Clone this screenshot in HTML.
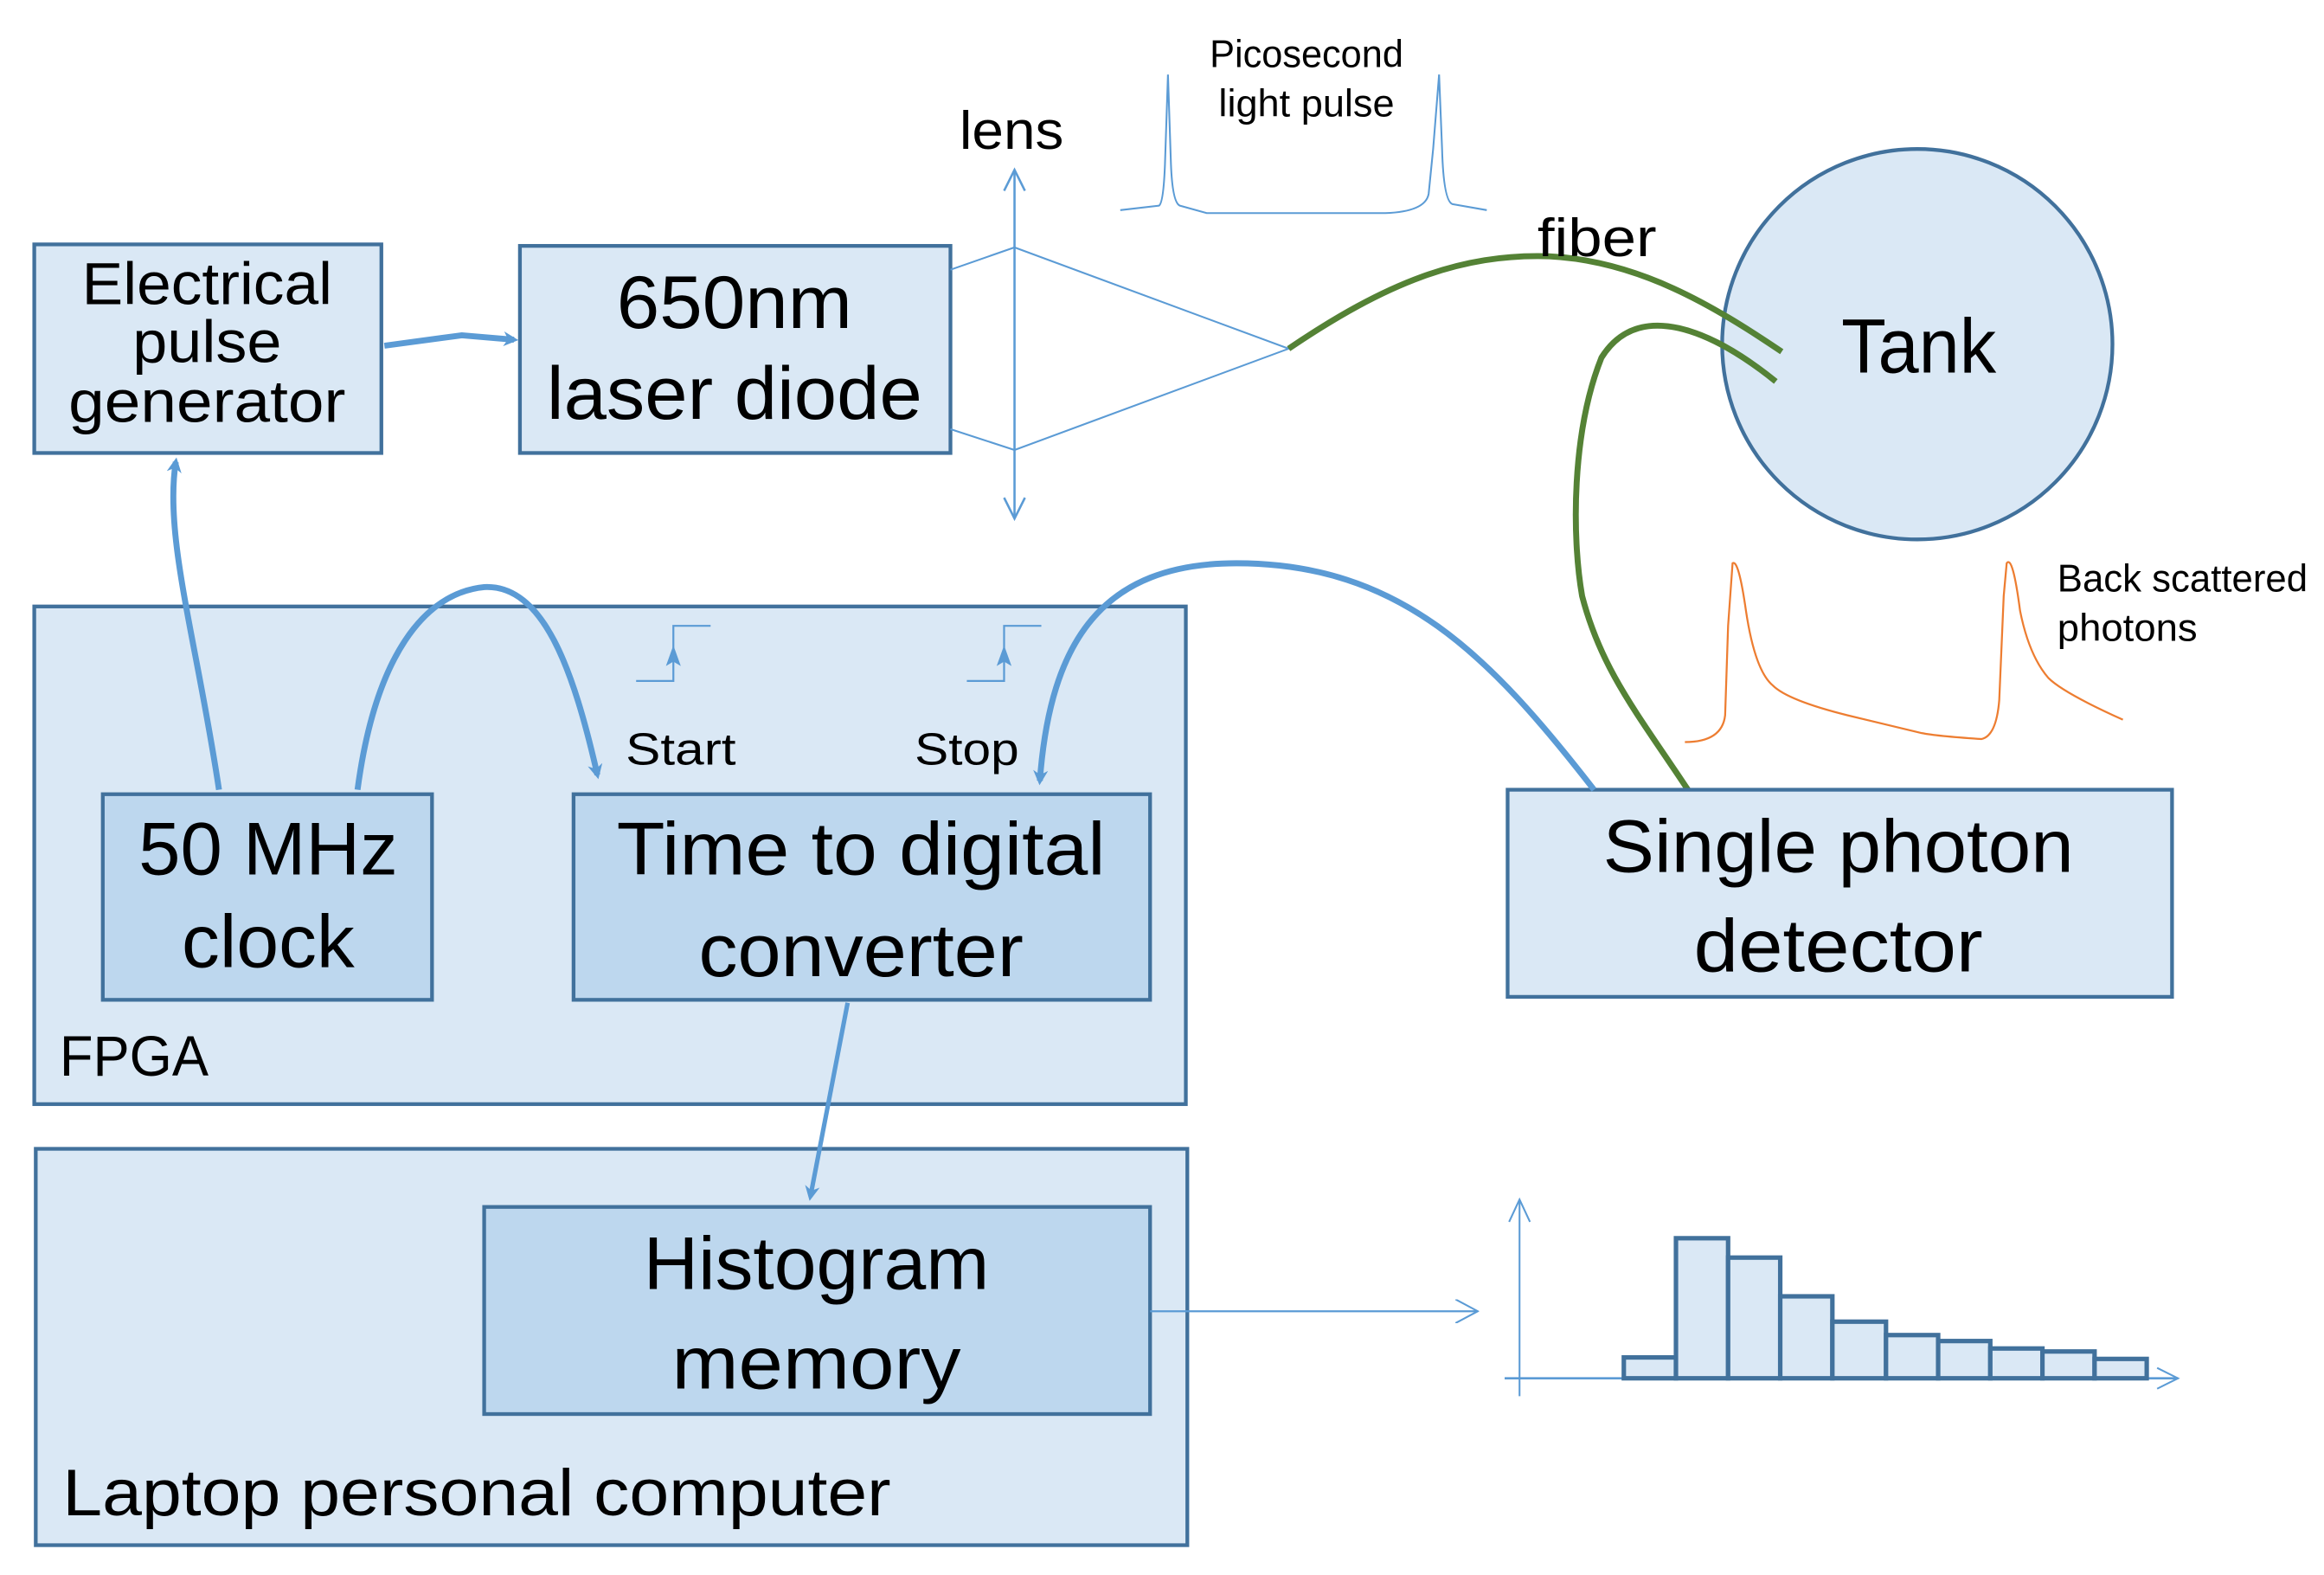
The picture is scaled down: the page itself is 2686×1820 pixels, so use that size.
<!DOCTYPE html>
<html><head><meta charset="utf-8"><style>
html,body{margin:0;padding:0;background:#fff;}
svg{display:block;}
text{font-family:"Liberation Sans",sans-serif;fill:#000;}
</style></head><body>
<svg width="2686" height="1820" viewBox="0 0 1560 1057" xmlns="http://www.w3.org/2000/svg">
<defs>
<marker id="ah" markerWidth="10" markerHeight="10" refX="7" refY="5" orient="auto" markerUnits="userSpaceOnUse"><path d="M0,0 L10,5 L0,10 L3,5 Z" fill="#5b9bd5"/></marker>
<marker id="ao" markerWidth="16" markerHeight="16" refX="15" refY="8" orient="auto" markerUnits="userSpaceOnUse"><path d="M0,0 L15,8 L0,16" fill="none" stroke="#5b9bd5" stroke-width="1.2"/></marker>
</defs>

<!-- FPGA -->
<rect x="23" y="407" width="773" height="334" fill="#dae8f5" stroke="#41719c" stroke-width="2.5"/>
<text x="40" y="722" font-size="38" textLength="100" lengthAdjust="spacingAndGlyphs">FPGA</text>
<!-- Laptop -->
<rect x="24" y="771" width="773" height="266" fill="#dae8f5" stroke="#41719c" stroke-width="2.5"/>
<text x="42" y="1017" font-size="44" textLength="556" lengthAdjust="spacingAndGlyphs">Laptop personal computer</text>

<!-- Pulse gen -->
<rect x="23" y="164" width="233" height="140" fill="#dae8f5" stroke="#41719c" stroke-width="2.5"/>
<text x="139" y="204" font-size="40" text-anchor="middle" textLength="168" lengthAdjust="spacingAndGlyphs">Electrical</text>
<text x="139" y="243" font-size="40" text-anchor="middle" textLength="100" lengthAdjust="spacingAndGlyphs">pulse</text>
<text x="139" y="283" font-size="40" text-anchor="middle" textLength="186" lengthAdjust="spacingAndGlyphs">generator</text>

<!-- Laser -->
<rect x="349" y="165" width="289" height="139" fill="#dae8f5" stroke="#41719c" stroke-width="2.5"/>
<text x="493" y="220" font-size="50" text-anchor="middle" textLength="158" lengthAdjust="spacingAndGlyphs">650nm</text>
<text x="493" y="281" font-size="50" text-anchor="middle" textLength="252" lengthAdjust="spacingAndGlyphs">laser diode</text>

<!-- lens -->
<line x1="681" y1="115" x2="681" y2="347" stroke="#5b9bd5" stroke-width="1.5"/>
<path d="M674,128 L681,114 L688,128 M674,334 L681,348 L688,334" fill="none" stroke="#5b9bd5" stroke-width="1.5"/>
<text x="679" y="100" font-size="36" text-anchor="middle" textLength="70" lengthAdjust="spacingAndGlyphs">lens</text>
<path d="M638,181 L681,166 L865,234 L681,302 L638,288" fill="none" stroke="#5b9bd5" stroke-width="1.2"/>

<!-- pulse -->
<path d="M752,141 L778,138 Q781,136 782,110 L784,50 L786,110 Q787,136 792,138 L810,143 L930,143 Q957,142 959,130 L962,100 L966,50 L968,100 Q969,135 975,137 L998,141" fill="none" stroke="#5b9bd5" stroke-width="1.2"/>
<text x="877" y="45" font-size="26" text-anchor="middle" textLength="130" lengthAdjust="spacingAndGlyphs">Picosecond</text>
<text x="877" y="78" font-size="26" text-anchor="middle" textLength="118" lengthAdjust="spacingAndGlyphs">light pulse</text>

<!-- Tank -->
<ellipse cx="1287" cy="231" rx="131" ry="131" fill="#dae8f5" stroke="#41719c" stroke-width="2.5"/>
<text x="1288" y="250" font-size="52" text-anchor="middle" textLength="104" lengthAdjust="spacingAndGlyphs">Tank</text>

<!-- fiber -->
<path d="M865,234 C930,190 980,170 1040,172 C1100,175 1150,205 1196,236" fill="none" stroke="#548235" stroke-width="4"/>
<path d="M1192,256 C1150,222 1100,200 1075,240 C1055,290 1055,360 1062,400 C1075,450 1100,480 1133,530" fill="none" stroke="#548235" stroke-width="4"/>
<text x="1072" y="172" font-size="36" text-anchor="middle" textLength="80" lengthAdjust="spacingAndGlyphs">fiber</text>

<!-- back scatter -->
<path d="M1131,498 Q1156,498 1158,480 L1160,420 L1163,378 Q1167,375 1172,410 Q1178,450 1190,460 Q1200,470 1240,480 L1290,492 Q1300,494 1330,496 Q1340,494 1342,470 L1345,400 L1347,378 Q1351,372 1356,410 Q1362,440 1375,455 Q1385,465 1425,483" fill="none" stroke="#ed7d31" stroke-width="1.3"/>
<text x="1381" y="397" font-size="26" textLength="168" lengthAdjust="spacingAndGlyphs">Back scattered</text>
<text x="1381" y="430" font-size="26" textLength="94" lengthAdjust="spacingAndGlyphs">photons</text>

<!-- clock -->
<rect x="69" y="533" width="221" height="138" fill="#bdd7ee" stroke="#41719c" stroke-width="2.5"/>
<text x="180" y="587" font-size="50" text-anchor="middle" textLength="174" lengthAdjust="spacingAndGlyphs">50 MHz</text>
<text x="180" y="649" font-size="50" text-anchor="middle" textLength="116" lengthAdjust="spacingAndGlyphs">clock</text>

<!-- TDC -->
<rect x="385" y="533" width="387" height="138" fill="#bdd7ee" stroke="#41719c" stroke-width="2.5"/>
<text x="578" y="587" font-size="50" text-anchor="middle" textLength="328" lengthAdjust="spacingAndGlyphs">Time to digital</text>
<text x="578" y="655" font-size="50" text-anchor="middle" textLength="218" lengthAdjust="spacingAndGlyphs">converter</text>

<text x="420" y="513" font-size="30" textLength="74" lengthAdjust="spacingAndGlyphs">Start</text>
<text x="614" y="513" font-size="30" textLength="70" lengthAdjust="spacingAndGlyphs">Stop</text>
<path d="M427,457 L452,457 L452,420 L477,420" fill="none" stroke="#5b9bd5" stroke-width="1.3"/>
<path d="M452,433 L457,447 L452,444 L447,447 Z" fill="#5b9bd5"/>
<path d="M649,457 L674,457 L674,420 L699,420" fill="none" stroke="#5b9bd5" stroke-width="1.3"/>
<path d="M674,433 L679,447 L674,444 L669,447 Z" fill="#5b9bd5"/>

<!-- SPD -->
<rect x="1012" y="530" width="446" height="139" fill="#dae8f5" stroke="#41719c" stroke-width="2.5"/>
<text x="1234" y="585" font-size="50" text-anchor="middle" textLength="316" lengthAdjust="spacingAndGlyphs">Single photon</text>
<text x="1234" y="652" font-size="50" text-anchor="middle" textLength="194" lengthAdjust="spacingAndGlyphs">detector</text>

<!-- Histogram memory -->
<rect x="325" y="810" width="447" height="139" fill="#bdd7ee" stroke="#41719c" stroke-width="2.5"/>
<text x="548" y="865" font-size="50" text-anchor="middle" textLength="232" lengthAdjust="spacingAndGlyphs">Histogram</text>
<text x="548" y="932" font-size="50" text-anchor="middle" textLength="194" lengthAdjust="spacingAndGlyphs">memory</text>

<!-- connectors -->
<path d="M258,232 L310,225 L345,228" fill="none" stroke="#5b9bd5" stroke-width="4" marker-end="url(#ah)"/>
<path d="M147,530 C132,430 110,360 118,310" fill="none" stroke="#5b9bd5" stroke-width="4" marker-end="url(#ah)"/>
<path d="M240,530 C252,440 285,398 325,394 C365,392 385,450 401,520" fill="none" stroke="#5b9bd5" stroke-width="4" marker-end="url(#ah)"/>
<path d="M1070,530 C1000,440 940,378 830,378 C740,378 705,430 698,524" fill="none" stroke="#5b9bd5" stroke-width="4" marker-end="url(#ah)"/>
<path d="M569,673 L544,803" fill="none" stroke="#5b9bd5" stroke-width="3" marker-end="url(#ah)"/>
<line x1="772" y1="880" x2="992" y2="880" stroke="#5b9bd5" stroke-width="1.3" marker-end="url(#ao)"/>

<!-- histogram plot -->
<line x1="1020" y1="937" x2="1020" y2="806" stroke="#5b9bd5" stroke-width="1.2"/>
<path d="M1013,820 L1020,805 L1027,820" fill="none" stroke="#5b9bd5" stroke-width="1.2"/>
<line x1="1010" y1="925" x2="1462" y2="925" stroke="#5b9bd5" stroke-width="1.5"/>
<path d="M1448,918 L1462,925 L1448,932" fill="none" stroke="#5b9bd5" stroke-width="1.2"/>
<g fill="#dae8f5" stroke="#41719c" stroke-width="3">
<rect x="1090" y="911" width="35" height="14"/>
<rect x="1125" y="831" width="35" height="94"/>
<rect x="1160" y="844" width="35" height="81"/>
<rect x="1195" y="870" width="35" height="55"/>
<rect x="1230" y="887" width="36" height="38"/>
<rect x="1266" y="896" width="35" height="29"/>
<rect x="1301" y="900" width="35" height="25"/>
<rect x="1336" y="905" width="35" height="20"/>
<rect x="1371" y="907" width="35" height="18"/>
<rect x="1406" y="912" width="35" height="13"/>
</g>
</svg>
</body></html>
